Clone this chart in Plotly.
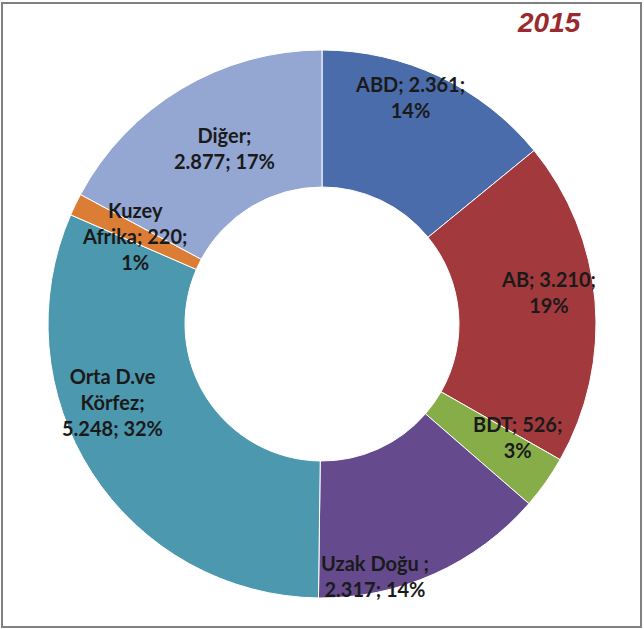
import plotly.graph_objects as go

# Data
REGIONS = ["ABD", "AB", "BDT", "Uzak Doğu", "Orta D.ve Körfez", "Kuzey Afrika", "Diğer"]
VALUES = [2361, 3210, 526, 2317, 5248, 220, 2877]
LABELS = [
    "ABD; 2.361;<br>14%",
    "AB; 3.210;<br>19%",
    "BDT; 526;<br>3%",
    "Uzak Doğu ;<br>2.317; 14%",
    "Orta D.ve<br>Körfez;<br>5.248; 32%",
    "Kuzey<br>Afrika; 220;<br>1%",
    "Diğer;<br>2.877; 17%",
]
COLORS = ["#4A6CAA", "#A2393D", "#86AD47", "#664A8E", "#4C98AE", "#DC7D35", "#94A6D2"]

W, H = 644, 629
cx, cy, r = 322, 324, 274

# label centers in pixels (x, y from top)
LABEL_POS = [(410, 97), (548, 292), (517, 437), (375, 576), (112, 402), (134, 236), (224, 148)]

fig = go.Figure(go.Pie(
    labels=REGIONS,
    values=VALUES,
    hole=0.5,
    sort=False,
    direction="clockwise",
    rotation=0,
    textinfo="none",
    marker=dict(colors=COLORS, line=dict(color="white", width=1)),
    domain=dict(x=[(cx - r) / W, (cx + r) / W], y=[(H - cy - r) / H, (H - cy + r) / H]),
    showlegend=False,
))

for text, (x, y) in zip(LABELS, LABEL_POS):
    fig.add_annotation(
        x=x / W, y=1 - y / H, xref="paper", yref="paper", text=text, showarrow=False,
        font=dict(family="Lato", size=20, color="#1a1a1a", weight="bold"),
        align="center", xanchor="center", yanchor="middle",
    )

fig.add_annotation(
    x=549 / W, y=1 - 23 / H, xref="paper", yref="paper", text="<b><i>2015</i></b>",
    showarrow=False, font=dict(family="Liberation Sans", size=28, color="#9A2A2E"),
    xanchor="center", yanchor="middle",
)

fig.add_shape(type="rect", xref="paper", yref="paper",
              x0=2 / W, x1=641 / W, y0=1 - 627 / H, y1=1 - 3 / H,
              line=dict(color="#808080", width=2))

fig.update_layout(
    width=W, height=H,
    margin=dict(l=0, r=0, t=0, b=0),
    paper_bgcolor="white",
    plot_bgcolor="white",
)

fig.write_html("out.html", config={"displayModeBar": False},
               post_script="document.body.style.margin='0';document.body.style.overflow='hidden';")
